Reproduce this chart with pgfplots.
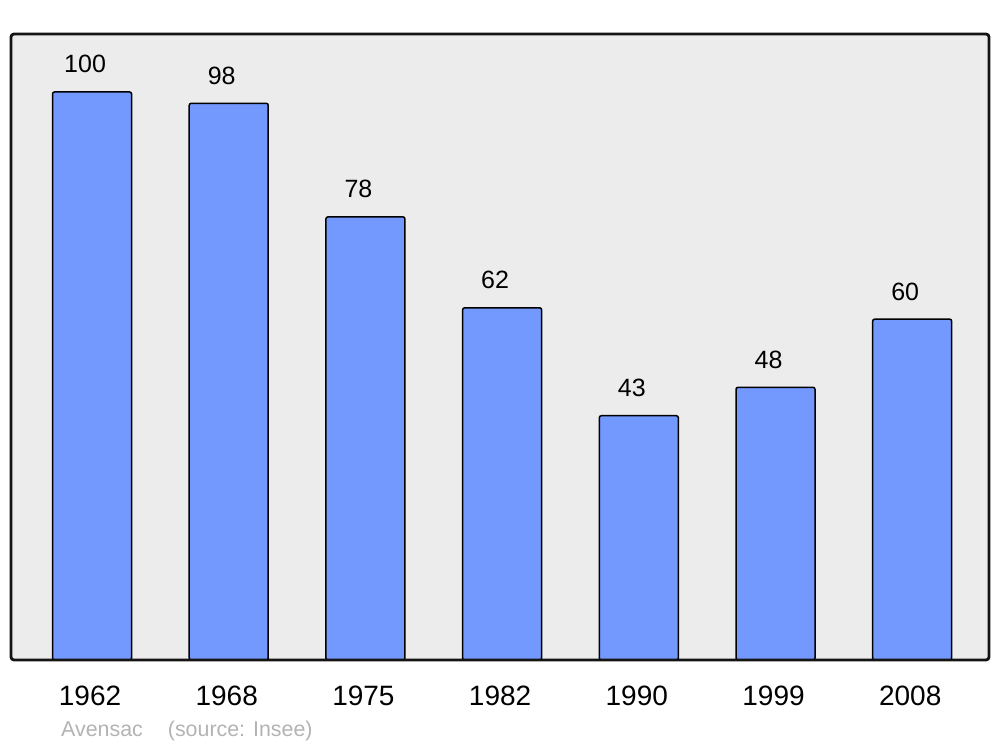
\documentclass[border=0pt]{standalone}
\usepackage{pgfplots}
\pgfplotsset{compat=1.18}
\usepackage{fontspec}
\setmainfont{Liberation Sans}
\definecolor{barblue}{HTML}{7399FF}
\definecolor{bgray}{HTML}{ECECEC}
\definecolor{capgray}{HTML}{B3B3B3}
\begin{document}
\begin{tikzpicture}
\path[use as bounding box] (-11pt,-87pt) rectangle (989pt,660pt);
\begin{axis}[
  scale only axis, width=978pt, height=626pt,
  xmin=-0.593, xmax=6.562, ymin=0, ymax=110.2,
  /pgf/number format/assume math mode=true,
  axis line style={draw=none},
  major tick length=0pt,
  ytick=\empty,
  xtick={0,1,2,3,4,5,6},
  xticklabels={1962,1968,1975,1982,1990,1999,2008},
  xticklabel style={anchor=base, yshift=-45pt, xshift=-2pt, font=\fontsize{28pt}{32pt}\selectfont, inner sep=0pt},
  ybar, bar width=79pt,
  nodes near coords,
  every node near coord/.append style={anchor=base, yshift=19pt, xshift=-7pt, inner sep=0pt, font=\fontsize{25pt}{28pt}\selectfont, text=black},
  clip=false,
]
\fill[bgray] (rel axis cs:0,0) rectangle (rel axis cs:1,1);
\addplot[fill=barblue, draw=black, line width=1.5pt, rounded corners=2pt] coordinates {
  (0,100) (1,98) (2,78) (3,62) (4,43) (5,48) (6,60)
};
\draw[line width=2.8pt, rounded corners=3pt, color=black!92] (rel axis cs:0,0) rectangle (rel axis cs:1,1);
\end{axis}
\node[anchor=base west, inner sep=0pt, text=capgray, font=\fontsize{21.4pt}{24pt}\selectfont] at (50pt,-76.7pt) {Avensac\hspace{25pt}(source: Insee)};
\end{tikzpicture}
\end{document}
